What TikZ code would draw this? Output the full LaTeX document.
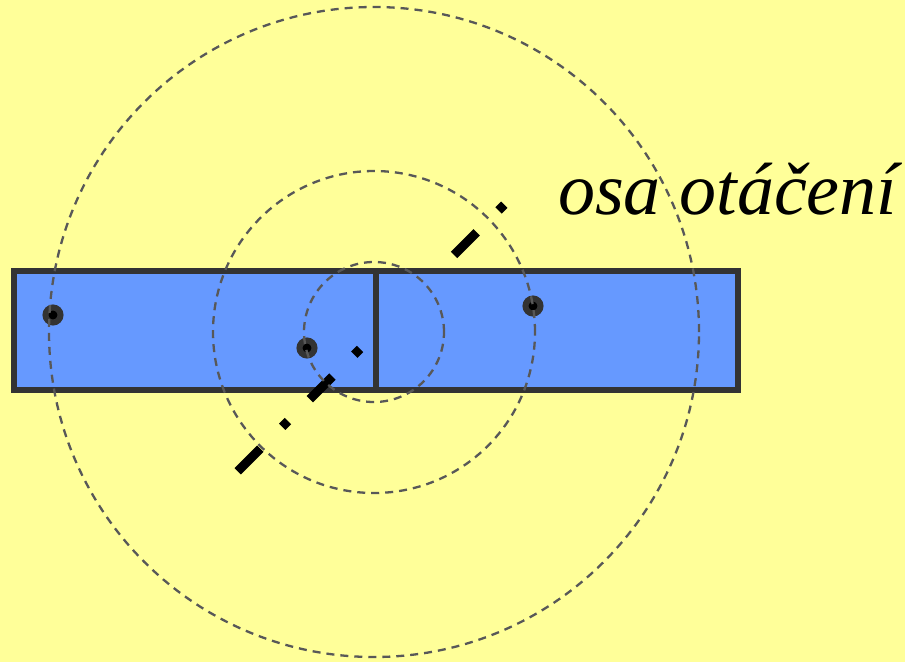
\documentclass[tikz,border=0pt]{standalone}
\usepackage{fontspec}
\setmainfont{Liberation Serif}
\usetikzlibrary{positioning}
\definecolor{paper}{RGB}{255,255,153}
\definecolor{rodblue}{RGB}{102,153,255}
\definecolor{edge}{RGB}{51,51,51}
\definecolor{orbitgray}{RGB}{88,88,88}
\tikzset{
  rod/.style={draw=edge,fill=rodblue,line width=5.5pt,rectangle,minimum width=362pt,minimum height=119pt,inner sep=0pt,outer sep=0pt},
  pivot/.style={circle,draw=edge,fill=black,line width=6pt,minimum size=15pt,inner sep=0pt},
  orbit/.style={draw=orbitgray,line width=2.3pt,dash pattern=on 8pt off 6pt},
  axisline/.style={draw=black,line width=9pt,dash pattern=on 32pt off 31pt on 8pt off 31pt},
  caption/.style={font=\fontsize{74}{82}\selectfont\itshape,inner sep=0pt},
}

\begin{document}
\begin{tikzpicture}[x=1pt,y=-1pt]

  \fill[paper] (0,0) rectangle (905,662);
  \useasboundingbox (0,0) rectangle (905,662);

  % left half of the rod, then the axis behind the right half
  \node[rod] (rodL) at (195,330.5) {};
  \coordinate (axA) at (237.7,471.3);
  \coordinate (axB) at (504.3,204.7);
  \draw[axisline] (axA) -- (axB);
  \node[rod,right=0pt of rodL] (rodR) {};

  % points of the rod
  \node[pivot] (p1) at (53,315)  {};
  \node[pivot] (p2) at (307,348) {};
  \node[pivot] (p3) at (533,306) {};

  % their paths round the axis
  \coordinate (hub) at (374,332);
  \draw[orbit] (hub) circle[radius=70pt];
  \draw[orbit] (hub) circle[radius=161pt];
  \draw[orbit] (hub) circle[radius=325pt];

  \node[caption,anchor=base west] (label) at (558,214) {osa otáčení};

\end{tikzpicture}
\end{document}
